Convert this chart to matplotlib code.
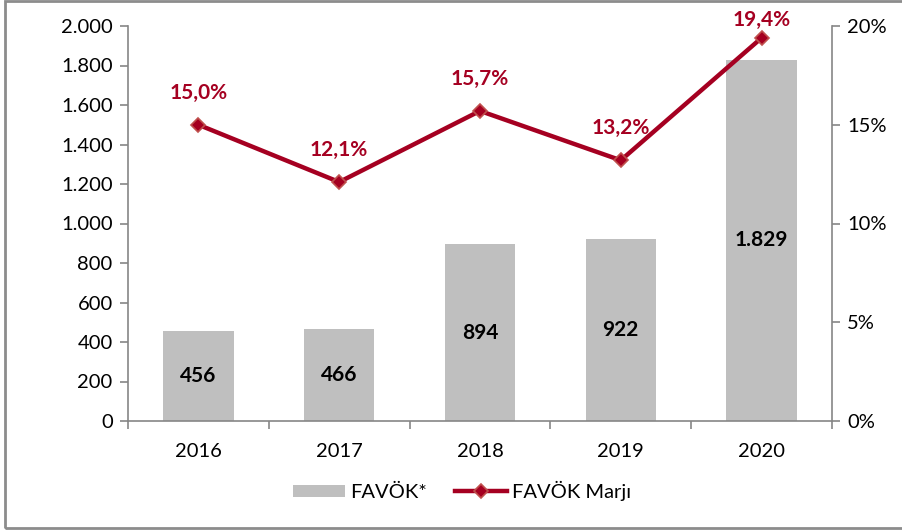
import numpy as np
import matplotlib.pyplot as plt
from matplotlib.patches import Rectangle
from matplotlib.ticker import FixedLocator, FuncFormatter

plt.rcParams['font.family'] = ['Lato', 'DejaVu Sans']

years = ['2016', '2017', '2018', '2019', '2020']
favok = [456, 466, 894, 922, 1829]
favok_labels = ['456', '466', '894', '922', '1.829']
margin = [15.0, 12.1, 15.7, 13.2, 19.4]
margin_labels = ['15,0%', '12,1%', '15,7%', '13,2%', '19,4%']

bar_color = '#BFBFBF'
line_color = '#A50021'
axis_color = '#868686'

fig = plt.figure(figsize=(9.02, 5.32), dpi=100)
fig.patches.append(Rectangle((5 / 902, 4 / 532), 1.0, 1 - 5 / 532, transform=fig.transFigure,
                             fill=False, edgecolor='#8c8c8c', linewidth=2))

ax = fig.add_axes([128 / 902, 1 - 421 / 532, 704 / 902, 395 / 532])
x = np.arange(len(years))
bars = ax.bar(x, favok, width=0.5, color=bar_color, label='FAVÖK*', zorder=1)
for xi, v, lab in zip(x, favok, favok_labels):
    ax.text(xi, v / 2, lab, ha='center', va='center', fontsize=15, fontweight='bold', color='black')

ax.set_xlim(-0.5, len(years) - 0.5)
ax.set_ylim(0, 2000)
ax.set_yticks(np.arange(0, 2001, 200))
ax.yaxis.set_major_formatter(FuncFormatter(lambda v, p: f'{int(v):,}'.replace(',', '.')))
ax.set_xticks(x)
ax.set_xticklabels(years)
ax.xaxis.set_minor_locator(FixedLocator(np.arange(-0.5, len(years), 1.0)))
ax.tick_params(axis='x', which='major', length=0, pad=16, labelsize=14.5)
ax.tick_params(axis='x', which='minor', length=6, color=axis_color, width=1.2)
ax.tick_params(axis='y', length=6, color=axis_color, width=1.2, labelsize=14.5, pad=5)
for s in ['top', 'right']:
    ax.spines[s].set_visible(False)
for s in ['left', 'bottom']:
    ax.spines[s].set_color(axis_color)
    ax.spines[s].set_linewidth(1.2)

ax2 = ax.twinx()
line, = ax2.plot(x, margin, color=line_color, linewidth=3.2, marker='D', markersize=7,
                 markerfacecolor=line_color, markeredgecolor='#C0504D', markeredgewidth=1.2,
                 label='FAVÖK Marjı', zorder=3)
for i, (xi, v, lab) in enumerate(zip(x, margin, margin_labels)):
    dy = 13 if i == len(margin) - 1 else 23
    ax2.annotate(lab, (xi, v), xytext=(0, dy), textcoords='offset points', ha='center', va='center',
                 fontsize=15, fontweight='bold', color=line_color)
ax2.set_ylim(0, 20)
ax2.set_yticks([0, 5, 10, 15, 20])
ax2.yaxis.set_major_formatter(FuncFormatter(lambda v, p: f'{int(v)}%'))
ax2.tick_params(axis='y', length=6, color=axis_color, width=1.2, labelsize=14.5, pad=5)
for s in ['top', 'left', 'bottom']:
    ax2.spines[s].set_visible(False)
ax2.spines['right'].set_color(axis_color)
ax2.spines['right'].set_linewidth(1.2)

fig.legend(handles=[bars, line], labels=['FAVÖK*', 'FAVÖK Marjı'], loc='center',
           bbox_to_anchor=(462 / 902, 1 - 491 / 532), ncol=2, frameon=False, fontsize=14.5,
           handlelength=2.6, handleheight=0.6, columnspacing=1.4, handletextpad=0.25)

fig.savefig('out.png', dpi=100)
